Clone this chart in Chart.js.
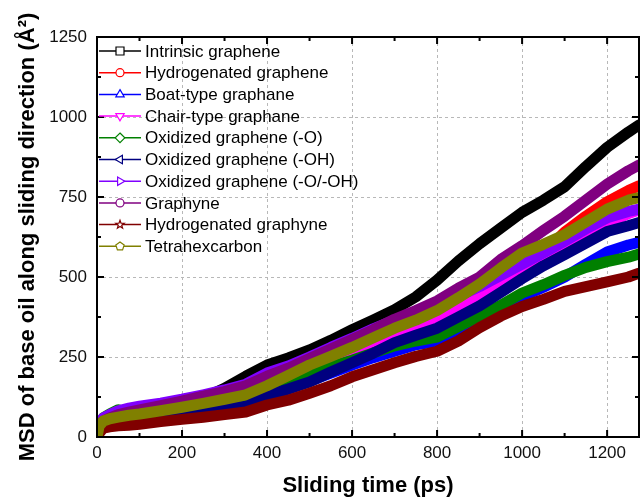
<!DOCTYPE html>
<html>
<head>
<meta charset="utf-8">
<script src="https://cdn.jsdelivr.net/npm/chart.js@4.4.1/dist/chart.umd.min.js"></script>
<style>
  html, body { margin: 0; padding: 0; background: #fff; }
  #wrap { width: 641px; height: 499px; }
</style>
</head>
<body>
<div id="wrap"><canvas id="c"></canvas></div>
<script>
// sliding time (ps)
const times = [0, 5, 15, 30, 50, 75, 100, 150, 200, 250, 300, 350, 400, 450, 500, 550, 600, 650, 700, 750, 800, 850, 900, 950, 1000, 1050, 1100, 1150, 1200, 1250, 1275];

// MSD values (Å²)
const intrinsic   = [0, 30, 45, 50, 58, 64, 70, 86, 103, 122, 152, 190, 225, 247, 272, 302, 335, 366, 398, 438, 490, 550, 604, 653, 702, 740, 782, 845, 905, 953, 975];
const hydroGraph  = [0, 45, 55, 60, 63, 66, 70, 78, 88, 100, 112, 128, 148, 172, 200, 228, 255, 285, 315, 345, 372, 405, 432, 470, 525, 575, 640, 690, 735, 770, 785];
const boatType    = [0, 15, 38, 45, 50, 55, 58, 65, 72, 82, 90, 100, 125, 150, 175, 200, 225, 248, 268, 288, 298, 335, 370, 405, 438, 468, 500, 540, 578, 600, 608];
const chairType   = [0, 30, 45, 50, 55, 60, 64, 72, 82, 95, 108, 125, 145, 170, 200, 228, 255, 285, 315, 345, 365, 410, 445, 485, 530, 565, 602, 640, 668, 698, 710];
const oxO         = [0, 40, 60, 72, 85, 76, 73, 77, 86, 100, 114, 118, 142, 172, 200, 220, 240, 263, 285, 300, 312, 345, 378, 412, 450, 476, 505, 530, 548, 562, 572];
const oxOH        = [0, 28, 40, 45, 48, 52, 55, 62, 70, 80, 88, 96, 130, 150, 172, 203, 232, 262, 295, 318, 340, 375, 410, 452, 495, 535, 570, 606, 642, 660, 670];
const oxOOH       = [0, 40, 60, 70, 82, 90, 96, 106, 118, 132, 147, 165, 200, 222, 250, 280, 308, 338, 365, 388, 410, 440, 470, 505, 540, 575, 612, 650, 685, 705, 712];
const graphyne    = [0, 35, 50, 60, 70, 78, 85, 98, 112, 128, 142, 160, 190, 215, 245, 275, 305, 335, 368, 395, 425, 465, 500, 555, 598, 645, 690, 740, 790, 832, 850];
const hydroGyne   = [0, 12, 28, 32, 35, 37, 40, 48, 55, 62, 70, 78, 100, 115, 137, 160, 188, 210, 232, 252, 268, 300, 342, 378, 408, 430, 455, 470, 485, 500, 512];
const tetrahex    = [0, 35, 50, 57, 62, 68, 72, 82, 93, 105, 118, 132, 160, 192, 225, 252, 280, 310, 340, 365, 395, 435, 478, 528, 575, 602, 632, 672, 712, 740, 748];

const seriesNames = ['Intrinsic graphene', 'Hydrogenated graphene', 'Boat-type graphane', 'Chair-type graphane',
  'Oxidized graphene (-O)', 'Oxidized graphene (-OH)', 'Oxidized graphene (-O/-OH)', 'Graphyne',
  'Hydrogenated graphyne', 'Tetrahexcarbon'];
const seriesValues = [intrinsic, hydroGraph, boatType, chairType, oxO, oxOH, oxOOH, graphyne, hydroGyne, tetrahex];
const seriesColors = ['#000000', '#FF0000', '#0000FF', '#FF00FF', '#008000', '#000080', '#8000FF', '#800080', '#800000', '#808000'];
const seriesMarkers = ['square', 'circle', 'triUp', 'triDown', 'diamond', 'triLeft', 'triRight', 'circle', 'star', 'pentagon'];

const xTicks = [0, 200, 400, 600, 800, 1000, 1200];
const yTicks = [0, 250, 500, 750, 1000, 1250];

const FONT = '"Liberation Sans", Arial, sans-serif';

// ── marker shapes for the legend ──
function markerPath(ctx, shape, x, y, r) {
  ctx.beginPath();
  if (shape === 'square') {
    ctx.rect(x - r, y - r, 2 * r, 2 * r);
  } else if (shape === 'circle') {
    ctx.arc(x, y, r, 0, Math.PI * 2);
  } else if (shape === 'diamond') {
    ctx.moveTo(x, y - r * 1.2); ctx.lineTo(x + r * 1.2, y); ctx.lineTo(x, y + r * 1.2); ctx.lineTo(x - r * 1.2, y);
    ctx.closePath();
  } else if (shape.startsWith('tri')) {
    const rot = { triUp: 0, triRight: 90, triDown: 180, triLeft: 270 }[shape] * Math.PI / 180;
    for (let k = 0; k < 3; k++) {
      const a = rot - Math.PI / 2 + k * 2 * Math.PI / 3;
      const px = x + r * 1.2 * Math.cos(a), py = y + r * 1.2 * Math.sin(a);
      k === 0 ? ctx.moveTo(px, py) : ctx.lineTo(px, py);
    }
    ctx.closePath();
  } else if (shape === 'pentagon' || shape === 'star') {
    const n = shape === 'star' ? 10 : 5;
    for (let k = 0; k < n; k++) {
      const rr = shape === 'star' && k % 2 ? r * 0.45 : r * 1.1;
      const a = -Math.PI / 2 + k * 2 * Math.PI / n;
      const px = x + rr * Math.cos(a), py = y + rr * Math.sin(a);
      k === 0 ? ctx.moveTo(px, py) : ctx.lineTo(px, py);
    }
    ctx.closePath();
  }
}

// ── dashed grid behind the data ──
const gridPlugin = {
  id: 'dashGrid',
  beforeDatasetsDraw(chart) {
    const { ctx, chartArea: a, scales: { x, y } } = chart;
    ctx.save();
    ctx.strokeStyle = '#b8b8b8';
    ctx.lineWidth = 1;
    ctx.setLineDash([3, 3]);
    xTicks.slice(1).forEach(v => {
      const px = Math.round(x.getPixelForValue(v)) + 0.5;
      ctx.beginPath(); ctx.moveTo(px, a.top); ctx.lineTo(px, a.bottom); ctx.stroke();
    });
    yTicks.slice(1, -1).forEach(v => {
      const py = Math.round(y.getPixelForValue(v)) + 0.5;
      ctx.beginPath(); ctx.moveTo(a.left, py); ctx.lineTo(a.right, py); ctx.stroke();
    });
    ctx.restore();
  }
};

// ── frame, inward ticks and legend on top ──
const framePlugin = {
  id: 'frame',
  afterDatasetsDraw(chart) {
    const { ctx, chartArea: a, scales: { x, y } } = chart;
    ctx.save();
    ctx.strokeStyle = '#000';
    ctx.lineWidth = 2;
    ctx.strokeRect(a.left, a.top, a.right - a.left, a.bottom - a.top);

    for (let v = 0; v <= x.max; v += 100) {
      const px = x.getPixelForValue(v);
      const len = v % 200 === 0 ? 7 : 4;
      ctx.beginPath();
      ctx.moveTo(px, a.bottom); ctx.lineTo(px, a.bottom - len);
      ctx.moveTo(px, a.top); ctx.lineTo(px, a.top + len);
      ctx.stroke();
    }
    for (let v = 0; v <= y.max; v += 125) {
      const py = y.getPixelForValue(v);
      const len = v % 250 === 0 ? 7 : 4;
      ctx.beginPath();
      ctx.moveTo(a.left, py); ctx.lineTo(a.left + len, py);
      ctx.moveTo(a.right, py); ctx.lineTo(a.right - len, py);
      ctx.stroke();
    }

    // legend
    ctx.font = '17px ' + FONT;
    ctx.textBaseline = 'middle';
    ctx.textAlign = 'left';
    seriesNames.forEach((name, i) => {
      const yy = 51 + i * 21.7;
      ctx.strokeStyle = seriesColors[i];
      ctx.lineWidth = 1.5;
      ctx.beginPath(); ctx.moveTo(99, yy); ctx.lineTo(141, yy); ctx.stroke();
      markerPath(ctx, seriesMarkers[i], 120, yy, 4);
      ctx.fillStyle = '#fff';
      ctx.fill();
      ctx.lineWidth = 1.2;
      ctx.stroke();
      ctx.fillStyle = '#000';
      ctx.fillText(name, 145, yy + 1);
    });
    ctx.restore();
  }
};

const datasets = seriesValues.map((vals, i) => ({
  label: seriesNames[i],
  data: times.map((t, k) => ({ x: t, y: vals[k] })),
  borderColor: seriesColors[i],
  backgroundColor: seriesColors[i],
  borderWidth: 11,
  borderJoinStyle: 'round',
  borderCapStyle: 'round',
  pointRadius: 0,
  tension: 0,
  order: seriesValues.length - 1 - i,
}));

new Chart(document.getElementById('c'), {
  type: 'line',
  data: { datasets },
  options: {
    responsive: true,
    maintainAspectRatio: false,
    animation: false,
    layout: { padding: { left: 0, right: 2, top: 37, bottom: 0 } },
    plugins: { legend: { display: false }, tooltip: { enabled: false } },
    scales: {
      x: {
        type: 'linear', min: 0, max: 1275,
        afterFit: s => { s.height = 62; },
        afterBuildTicks: s => { s.ticks = xTicks.map(v => ({ value: v })); },
        grid: { display: false, drawTicks: false },
        border: { display: false },
        ticks: { color: '#111', padding: 6, maxRotation: 0, font: { size: 17, family: FONT },
          callback: v => String(v) },
        title: { display: true, text: 'Sliding time (ps)', color: '#000', padding: { top: 0, bottom: 0 },
          font: { size: 22, weight: 'bold', family: FONT } },
      },
      y: {
        min: 0, max: 1250,
        afterFit: s => { s.width = 97; },
        afterBuildTicks: s => { s.ticks = yTicks.map(v => ({ value: v })); },
        grid: { display: false, drawTicks: false },
        border: { display: false },
        ticks: { color: '#111', padding: 10, font: { size: 17, family: FONT },
          callback: v => String(v) },
        title: { display: true, text: 'MSD of base oil along sliding direction (Å²)', color: '#000',
          padding: { top: 15, bottom: 0 }, font: { size: 22, weight: 'bold', family: FONT } },
      },
    },
  },
  plugins: [gridPlugin, framePlugin],
});
</script>
</body>
</html>
